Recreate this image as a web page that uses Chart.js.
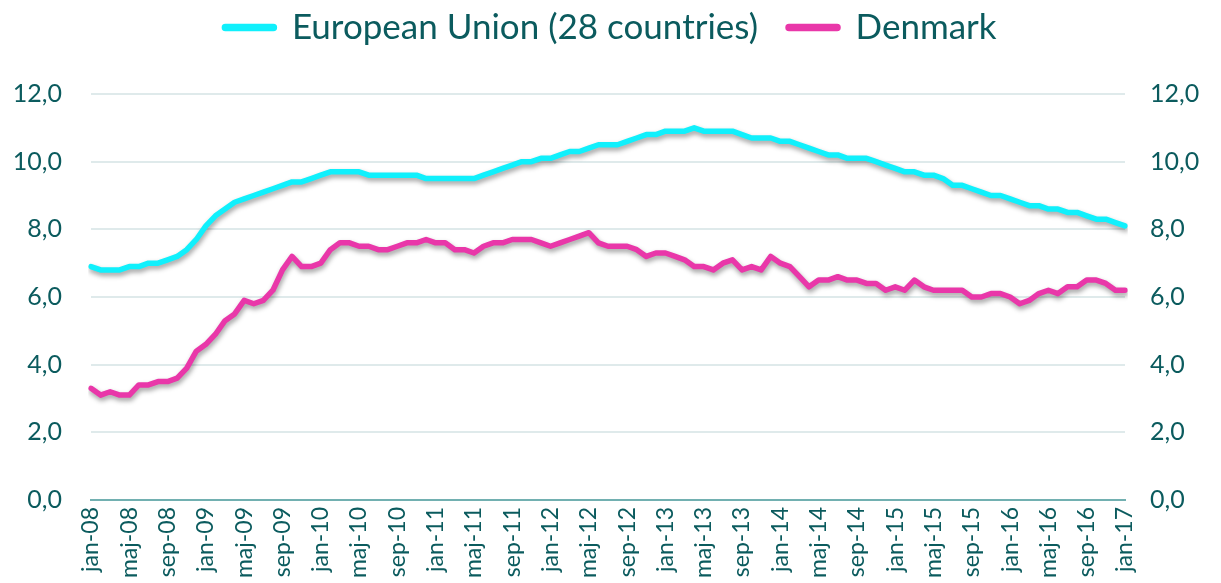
<!DOCTYPE html>
<html>
<head>
<meta charset="utf-8">
<script src="https://cdn.jsdelivr.net/npm/chart.js@4"></script>
<style>
  html, body { margin: 0; padding: 0; background: #fff; }
  #wrap { width: 1221px; height: 583px; }
</style>
</head>
<body>
<div id="wrap"><canvas id="unemploymentChart" width="1221" height="583"></canvas></div>
<script>
// Category parts (monthly, jan-08 .. jan-17)
const months = ["jan", "feb", "mar", "apr", "maj", "jun", "jul", "aug", "sep", "okt", "nov", "dec"];
const years = ["08", "09", "10", "11", "12", "13", "14", "15", "16", "17"];

// Unemployment rate, %
const euValues = [
    6.9, 6.8, 6.8, 6.8, 6.9, 6.9, 7.0, 7.0, 7.1, 7.2, 7.4, 7.7,
    8.1, 8.4, 8.6, 8.8, 8.9, 9.0, 9.1, 9.2, 9.3, 9.4, 9.4, 9.5,
    9.6, 9.7, 9.7, 9.7, 9.7, 9.6, 9.6, 9.6, 9.6, 9.6, 9.6, 9.5,
    9.5, 9.5, 9.5, 9.5, 9.5, 9.6, 9.7, 9.8, 9.9, 10.0, 10.0, 10.1,
    10.1, 10.2, 10.3, 10.3, 10.4, 10.5, 10.5, 10.5, 10.6, 10.7, 10.8, 10.8,
    10.9, 10.9, 10.9, 11.0, 10.9, 10.9, 10.9, 10.9, 10.8, 10.7, 10.7, 10.7,
    10.6, 10.6, 10.5, 10.4, 10.3, 10.2, 10.2, 10.1, 10.1, 10.1, 10.0, 9.9,
    9.8, 9.7, 9.7, 9.6, 9.6, 9.5, 9.3, 9.3, 9.2, 9.1, 9.0, 9.0,
    8.9, 8.8, 8.7, 8.7, 8.6, 8.6, 8.5, 8.5, 8.4, 8.3, 8.3, 8.2,
    8.1
];
const dkValues = [
    3.3, 3.1, 3.2, 3.1, 3.1, 3.4, 3.4, 3.5, 3.5, 3.6, 3.9, 4.4,
    4.6, 4.9, 5.3, 5.5, 5.9, 5.8, 5.9, 6.2, 6.8, 7.2, 6.9, 6.9,
    7.0, 7.4, 7.6, 7.6, 7.5, 7.5, 7.4, 7.4, 7.5, 7.6, 7.6, 7.7,
    7.6, 7.6, 7.4, 7.4, 7.3, 7.5, 7.6, 7.6, 7.7, 7.7, 7.7, 7.6,
    7.5, 7.6, 7.7, 7.8, 7.9, 7.6, 7.5, 7.5, 7.5, 7.4, 7.2, 7.3,
    7.3, 7.2, 7.1, 6.9, 6.9, 6.8, 7.0, 7.1, 6.8, 6.9, 6.8, 7.2,
    7.0, 6.9, 6.6, 6.3, 6.5, 6.5, 6.6, 6.5, 6.5, 6.4, 6.4, 6.2,
    6.3, 6.2, 6.5, 6.3, 6.2, 6.2, 6.2, 6.2, 6.0, 6.0, 6.1, 6.1,
    6.0, 5.8, 5.9, 6.1, 6.2, 6.1, 6.3, 6.3, 6.5, 6.5, 6.4, 6.2,
    6.2
];

const yTicks = [0, 2, 4, 6, 8, 10, 12];

const labels = [];
years.forEach(function (y, yi) {
    months.forEach(function (m, mi) {
        if (yi < years.length - 1 || mi === 0) labels.push(m + "-" + y);
    });
});

const textColor = "#0b5b5e";
const font = "Lato, 'Open Sans', sans-serif";

// soft drop shadow under the lines, like the office chart
const lineShadow = {
    id: "lineShadow",
    beforeDatasetDraw(chart) {
        const c = chart.ctx;
        c.save();
        c.shadowColor = "rgba(0,0,0,0.38)";
        c.shadowBlur = 5;
        c.shadowOffsetX = 1;
        c.shadowOffsetY = 3;
    },
    afterDatasetDraw(chart) {
        chart.ctx.restore();
    }
};

// fixed legend band height so the plot starts where it should
const legendBand = {
    id: "legendBand",
    beforeInit(chart) {
        const lg = chart.legend;
        const fit = lg.fit;
        lg.fit = function () {
            fit.call(this);
            this.height = 114;
        };
    }
};

const ctx = document.getElementById("unemploymentChart").getContext("2d");

new Chart(ctx, {
    type: "line",
    data: {
        labels: labels,
        datasets: [
            {
                label: "European Union (28 countries)",
                data: euValues,
                borderColor: "#10f0fc",
                backgroundColor: "#10f0fc",
                borderWidth: 5.5,
                pointRadius: 0,
                borderJoinStyle: "round",
                borderCapStyle: "round",
                tension: 0,
                yAxisID: "y"
            },
            {
                label: "Denmark",
                data: dkValues,
                borderColor: "#e937a9",
                backgroundColor: "#e937a9",
                borderWidth: 5.5,
                pointRadius: 0,
                borderJoinStyle: "round",
                borderCapStyle: "round",
                tension: 0,
                yAxisID: "y"
            }
        ]
    },
    options: {
        responsive: false,
        animation: false,
        layout: { padding: { top: -20, left: 0, right: 0, bottom: 0 } },
        plugins: {
            legend: {
                position: "top",
                labels: {
                    color: textColor,
                    font: { family: font, size: 35 },
                    boxWidth: 50,
                    boxHeight: 2,
                    useBorderRadius: true,
                    borderRadius: 1,
                    padding: 30
                }
            },
            tooltip: { enabled: false }
        },
        scales: {
            x: {
                offset: false,
                grid: { display: false, drawTicks: false },
                border: { display: true, color: "#72b0b1", width: 2 },
                ticks: {
                    color: textColor,
                    font: { family: font, size: 23 },
                    autoSkip: false,
                    minRotation: 90,
                    maxRotation: 90,
                    padding: 7,
                    callback: function (val, idx) {
                        return idx % 4 === 0 ? this.getLabelForValue(val) : "";
                    }
                },
                afterFit(scale) { scale.height = 83; }
            },
            y: {
                position: "left",
                min: 0,
                max: 12,
                afterBuildTicks(scale) { scale.ticks = yTicks.map(v => ({ value: v })); },
                grid: { color: "#dfeaeb", lineWidth: 2, drawTicks: false },
                border: { display: false },
                ticks: {
                    color: textColor,
                    font: { family: font, size: 25 },
                    padding: 29,
                    callback: v => v.toFixed(1).replace(".", ",")
                },
                afterFit(scale) { scale.width = 91; }
            },
            y2: {
                position: "right",
                min: 0,
                max: 12,
                afterBuildTicks(scale) { scale.ticks = yTicks.map(v => ({ value: v })); },
                grid: { display: false, drawTicks: false },
                border: { display: false },
                ticks: {
                    color: textColor,
                    font: { family: font, size: 25 },
                    padding: 25,
                    callback: v => v.toFixed(1).replace(".", ",")
                },
                afterFit(scale) { scale.width = 96; }
            }
        }
    },
    plugins: [lineShadow, legendBand]
});
</script>
</body>
</html>
